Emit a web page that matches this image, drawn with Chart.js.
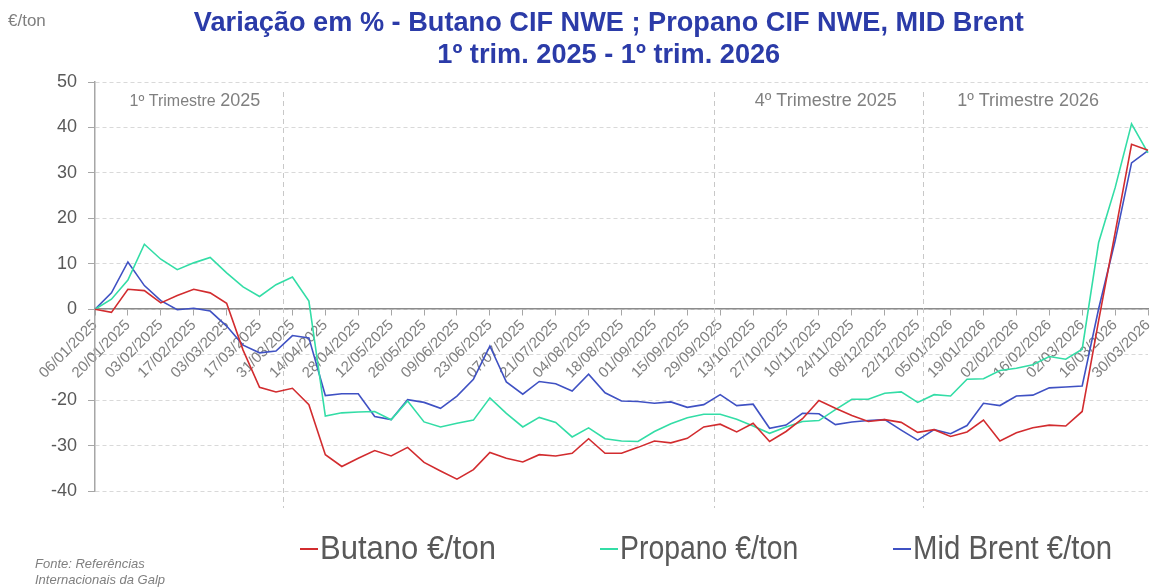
<!DOCTYPE html>
<html>
<head>
<meta charset="utf-8">
<script src="https://cdn.jsdelivr.net/npm/chart.js@4.4.1/dist/chart.umd.min.js"></script>
<style>
    body { margin: 0; background: #fff; }
    #wrap { position: relative; width: 1152px; height: 587px; overflow: hidden; font-family: "Liberation Sans", Arial, sans-serif; }
    #chart { position: absolute; left: 0; top: 0; }
    .sq { display: inline-block; transform-origin: 0 50%; white-space: nowrap; }
    #title { position: absolute; left: 0; width: 1218px; top: 6px; text-align: center; color: #2b3ba8;
             font-weight: bold; font-size: 28px; line-height: 32px; }
    #title .sq { transform: scaleX(0.97); transform-origin: 50% 50%; }
    #unit { position: absolute; left: 8px; top: 11px; color: #7f7f7f; font-size: 17px; }
    .leg { position: absolute; top: 528px; color: #595959; font-size: 33px; line-height: 40px; white-space: nowrap; }
    .leg i { position: absolute; left: 0; top: 20px; width: 18px; height: 2px; }
    .leg .sq { position: absolute; left: 20px; top: 0; }
    #source { position: absolute; left: 35px; top: 556px; color: #7f7f7f; font-size: 13px; line-height: 16px; font-style: italic; }
</style>
</head>
<body>
<div id="wrap">
    <canvas id="chart" width="1152" height="587"></canvas>
    <div id="title"><span class="sq">Variação em % - Butano CIF NWE ; Propano CIF NWE, MID Brent</span><br><span class="sq">1º trim. 2025 - 1º trim. 2026</span></div>
    <div id="unit">€/ton</div>
    <div class="leg" style="left:300px"><i style="background:#d22c2f"></i><span class="sq" style="transform:scaleX(0.94)">Butano €/ton</span></div>
    <div class="leg" style="left:600px"><i style="background:#33dda6"></i><span class="sq" style="transform:scaleX(0.86)">Propano €/ton</span></div>
    <div class="leg" style="left:893px"><i style="background:#3f51c3"></i><span class="sq" style="transform:scaleX(0.89)">Mid Brent €/ton</span></div>
    <div id="source">Fonte: Referências<br>Internacionais da Galp</div>
</div>
<script>
// weekly dates (every second one is labelled on the axis)
const weeks = [
    '06/01/2025', '13/01/2025', '20/01/2025', '27/01/2025', '03/02/2025', '10/02/2025', '17/02/2025', '24/02/2025',
    '03/03/2025', '10/03/2025', '17/03/2025', '24/03/2025', '31/03/2025', '07/04/2025', '14/04/2025', '21/04/2025',
    '28/04/2025', '05/05/2025', '12/05/2025', '19/05/2025', '26/05/2025', '02/06/2025', '09/06/2025', '16/06/2025',
    '23/06/2025', '30/06/2025', '07/07/2025', '14/07/2025', '21/07/2025', '28/07/2025', '04/08/2025', '11/08/2025',
    '18/08/2025', '25/08/2025', '01/09/2025', '08/09/2025', '15/09/2025', '22/09/2025', '29/09/2025', '06/10/2025',
    '13/10/2025', '20/10/2025', '27/10/2025', '03/11/2025', '10/11/2025', '17/11/2025', '24/11/2025', '01/12/2025',
    '08/12/2025', '15/12/2025', '22/12/2025', '29/12/2025', '05/01/2026', '12/01/2026', '19/01/2026', '26/01/2026',
    '02/02/2026', '09/02/2026', '16/02/2026', '23/02/2026', '02/03/2026', '09/03/2026', '16/03/2026', '23/03/2026',
    '30/03/2026'
];

const butano = [
    0, -0.7, 4.4, 4.1, 1.4, 3.0, 4.4, 3.6, 1.3, -9.0, -17.2, -18.2, -17.4, -21.0, -32.0, -34.6,
    -32.8, -31.1, -32.3, -30.4, -33.7, -35.6, -37.4, -35.3, -31.5, -32.8, -33.6, -32.0, -32.3, -31.7, -28.5, -31.7,
    -31.7, -30.4, -29.0, -29.4, -28.4, -25.9, -25.3, -27.0, -25.1, -29.1, -26.9, -24.1, -20.1, -21.8, -23.4, -24.7,
    -24.3, -24.9, -27.1, -26.5, -28.0, -27.0, -24.4, -29.0, -27.2, -26.1, -25.5, -25.7, -22.5, -2.5, 16.8, 36.3,
    35.0
];

const propano = [
    0, 2.2, 6.4, 14.3, 11.0, 8.7, 10.2, 11.4, 8.0, 4.9, 2.8, 5.4, 7.1, 1.8, -23.5, -22.8,
    -22.6, -22.5, -24.3, -20.2, -24.8, -25.9, -25.1, -24.4, -19.5, -22.9, -25.9, -23.8, -24.9, -28.1, -26.1, -28.5,
    -29.0, -29.1, -26.9, -25.2, -23.9, -23.1, -23.1, -24.2, -25.7, -27.3, -25.9, -24.7, -24.5, -22.1, -19.8, -19.8,
    -18.5, -18.2, -20.5, -18.8, -19.1, -15.4, -15.3, -13.5, -13.0, -12.2, -10.4, -11.0, -8.8, 14.7, 26.7, 40.8,
    34.4
];

const midBrent = [
    0, 3.6, 10.4, 5.2, 1.9, -0.1, 0.2, -0.4, -3.7, -7.9, -9.6, -9.2, -5.8, -6.3, -19.0, -18.6,
    -18.6, -23.6, -24.3, -19.9, -20.5, -21.8, -19.1, -15.4, -8.1, -16.0, -18.7, -15.9, -16.4, -18.0, -14.3, -18.4,
    -20.2, -20.3, -20.7, -20.4, -21.6, -21.0, -18.8, -21.2, -20.9, -26.2, -25.5, -22.9, -23.0, -25.4, -24.8, -24.5,
    -24.3, -26.6, -28.8, -26.5, -27.4, -25.6, -20.7, -21.2, -19.1, -18.9, -17.3, -17.1, -16.9, 0.1, 15.0, 32.2,
    34.9
];

const yTicks = [-40, -30, -20, -10, 0, 10, 20, 30, 40, 50];
const hiddenYLabels = [-10]; // covered by the first date label in the original

// quarter separators sit between weekly points
const quarters = [
    { at: 11.45, label: '1º Trimestre', year: '2025', textAt: 2.1, size: 16, yearSize: 18 },
    { at: 37.6, label: '4º Trimestre', year: '2025', textAt: 40.1, size: 18, yearSize: 18 },
    { at: 50.3, label: '1º Trimestre', year: '2026', textAt: 52.4, size: 18, yearSize: 18 }
];

const GREY = '#a6a6a6';
const FONT = "'Liberation Sans', Arial, sans-serif";

const quarterPlugin = {
    id: 'quarters',
    beforeDatasetsDraw(chart) {
        const { ctx, scales: { x } } = chart;
        ctx.save();
        ctx.strokeStyle = '#c8c8c8';
        ctx.lineWidth = 1;
        ctx.setLineDash([5, 4]);
        quarters.forEach(q => {
            const px = Math.round(x.getPixelForValue(q.at)) + 0.5;
            ctx.beginPath();
            ctx.moveTo(px, 92);
            ctx.lineTo(px, 508);
            ctx.stroke();
        });
        ctx.setLineDash([]);
        ctx.fillStyle = '#808080';
        quarters.forEach(q => {
            const px = x.getPixelForValue(q.textAt);
            ctx.font = q.size + 'px ' + FONT;
            const text = q.label + ' ';
            ctx.fillText(text, px, 106);
            const w = ctx.measureText(text).width;
            ctx.font = q.yearSize + 'px ' + FONT;
            ctx.fillText(q.year, px + w, 106);
        });
        ctx.restore();
    }
};

function series(label, data, color) {
    return {
        label,
        data,
        borderColor: color,
        backgroundColor: color,
        borderWidth: 1.6,
        pointRadius: 0,
        tension: 0,
        fill: false
    };
}

new Chart(document.getElementById('chart'), {
    type: 'line',
    data: {
        labels: weeks,
        datasets: [
            series('Butano €/ton', butano, '#d22c2f'),
            series('Propano €/ton', propano, '#33dda6'),
            series('Mid Brent €/ton', midBrent, '#3f51c3')
        ]
    },
    plugins: [quarterPlugin],
    options: {
        responsive: false,
        animation: false,
        devicePixelRatio: 1,
        layout: { padding: { top: 82, bottom: 96, left: 0, right: 4 } },
        plugins: {
            legend: { display: false },
            title: { display: false },
            tooltip: { enabled: false }
        },
        scales: {
            x: {
                position: { y: 0 },
                afterBuildTicks: scale => {
                    scale.ticks = scale.ticks.filter((t, i) => i % 2 === 0);
                },
                afterFit: scale => {
                    scale.paddingLeft = 0;
                    scale.paddingRight = 0;
                },
                grid: { drawOnChartArea: false, drawTicks: true, tickLength: 6, tickColor: GREY },
                border: { display: true, color: '#8c8c8c', width: 1.5 },
                ticks: {
                    autoSkip: false,
                    maxRotation: 45,
                    minRotation: 45,
                    padding: 1,
                    color: '#808080',
                    font: { family: FONT, size: 15 },
                    callback: function (value) { return this.getLabelForValue(value); }
                }
            },
            y: {
                min: -40,
                max: 50,
                afterBuildTicks: scale => {
                    scale.ticks = yTicks.map(v => ({ value: v }));
                },
                afterFit: scale => { scale.width = 95; },
                grid: { color: '#d9d9d9', lineWidth: 1, tickLength: 7, tickColor: GREY },
                border: { display: true, color: GREY, width: 1.5, dash: [4, 3] },
                ticks: {
                    padding: 11,
                    color: '#595959',
                    font: { family: FONT, size: 18 },
                    callback: value => hiddenYLabels.includes(value) ? '' : value
                }
            }
        }
    }
});
</script>
</body>
</html>
